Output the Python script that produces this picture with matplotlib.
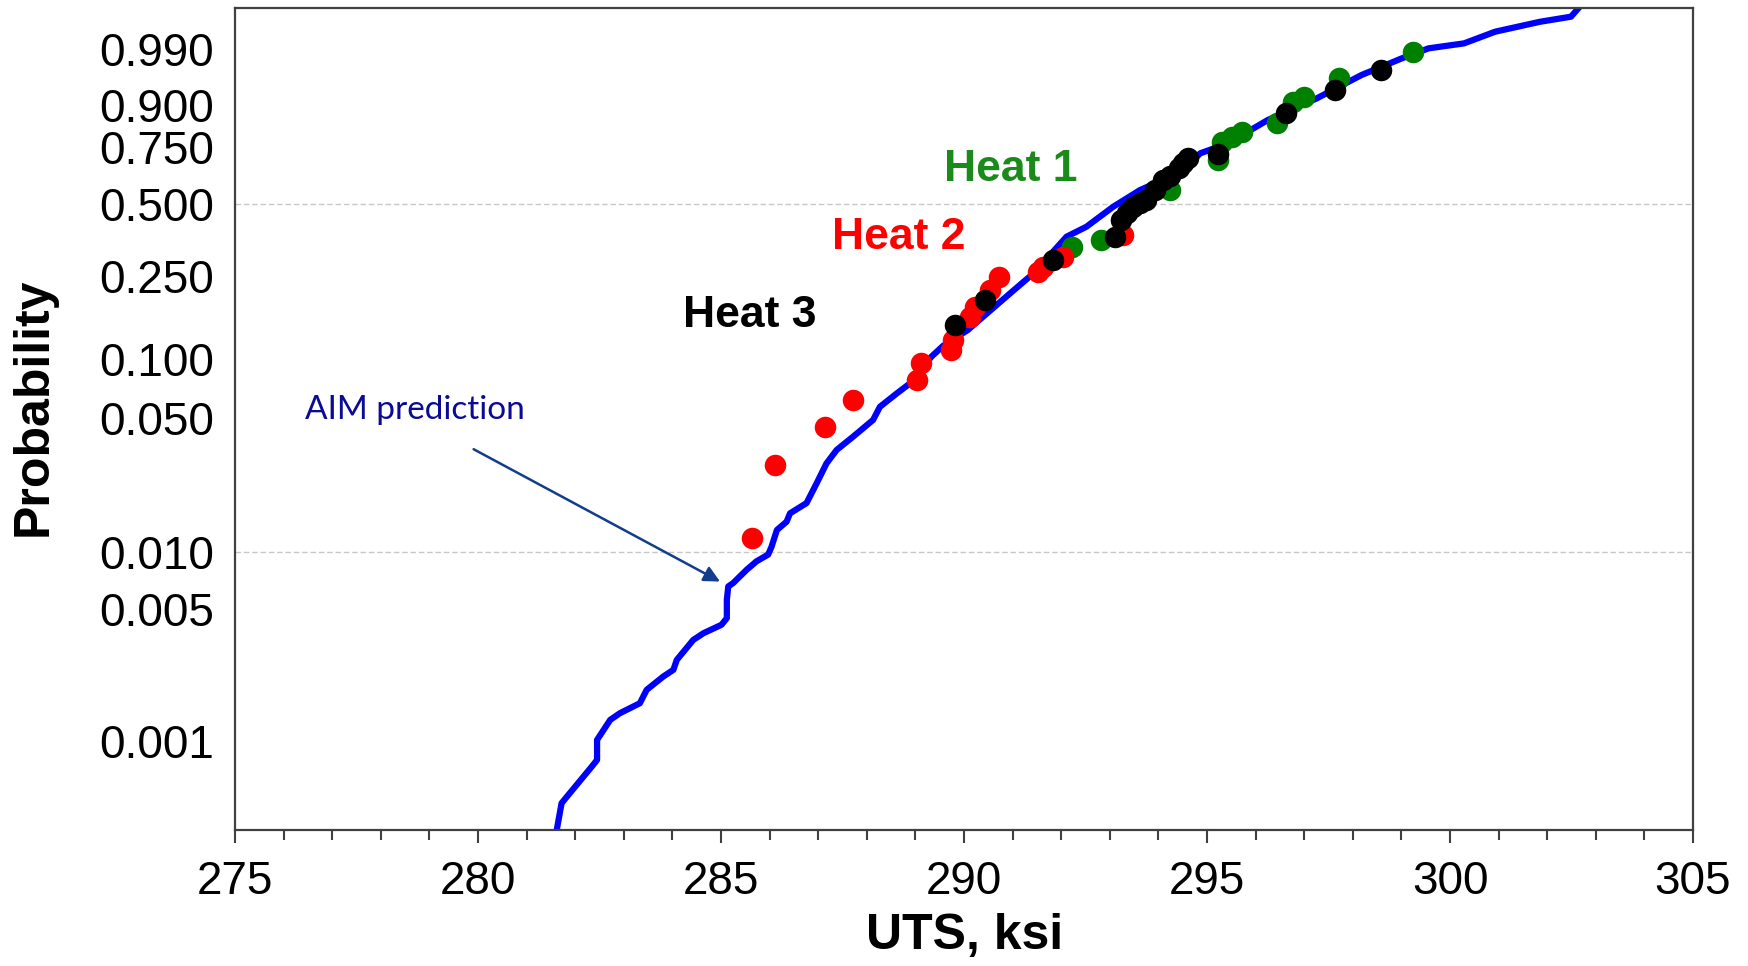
import numpy as np
import matplotlib
matplotlib.use("Agg")
import matplotlib.pyplot as plt
from matplotlib.ticker import MultipleLocator, NullLocator, FixedLocator, FixedFormatter

# ---------------- data ----------------
# AIM prediction (simulated CDF), UTS in ksi vs cumulative probability
curve_uts = [281.62, 281.72, 281.83, 282.34, 282.45, 282.45, 282.72, 282.92, 283.33, 283.47,
             283.81, 284.02, 284.09, 284.43, 284.64, 285.01, 285.12, 285.12, 285.15, 285.25,
             285.53, 285.73, 285.97, 286.04, 286.15, 286.35, 286.42, 286.76, 286.97, 287.17,
             287.38, 287.72, 288.13, 288.27, 288.62, 288.89, 289.33, 289.57, 290.08, 290.95,
             291.43, 292.11, 292.52, 293.07, 293.62, 294.50, 294.86, 295.43, 296.25, 297.26,
             298.18, 299.01, 299.56, 300.29, 300.93, 301.85, 302.49, 302.70]
curve_p = [0.000339, 0.000470, 0.000509, 0.000733, 0.000796, 0.001015, 0.001295, 0.001405, 0.001586, 0.001866,
           0.002193, 0.002381, 0.002687, 0.003428, 0.003718, 0.004118, 0.004464, 0.005580, 0.006562, 0.006836,
           0.008040, 0.008895, 0.009653, 0.01062, 0.0130, 0.01438, 0.0159, 0.0180, 0.0229, 0.0290,
           0.0341, 0.0400, 0.0488, 0.0570, 0.0668, 0.0751, 0.1024, 0.1160, 0.1389, 0.2084,
           0.2577, 0.3722, 0.4090, 0.4886, 0.5600, 0.6450, 0.7234, 0.7657, 0.8545, 0.9188,
           0.9644, 0.9832, 0.9901, 0.99258, 0.99649, 0.99830, 0.99887, 0.99960]

# Heat 1 (green)
heat1_uts = [292.23, 292.82, 294.24, 295.23, 295.30, 295.52, 295.71, 296.44, 296.76, 296.99, 297.72, 299.24]
heat1_p = [0.3377, 0.3606, 0.5604, 0.6940, 0.7723, 0.7925, 0.8121, 0.8431, 0.9101, 0.9227, 0.9593, 0.9881]

# Heat 2 (red)
heat2_uts = [285.63, 286.11, 287.14, 287.71, 289.03, 289.11, 289.73, 289.78, 290.12, 290.23,
             290.53, 290.71, 291.53, 291.63, 292.04, 293.28]
heat2_p = [0.0118, 0.0285, 0.0447, 0.0618, 0.0781, 0.0949, 0.1106, 0.1240, 0.1611, 0.1800,
           0.2159, 0.2488, 0.2622, 0.2762, 0.3057, 0.3784]

# Heat 3 (black)
heat3_uts = [289.81, 290.43, 291.84, 293.11, 293.23, 293.35, 293.47, 293.62, 293.74, 293.92,
             294.10, 294.24, 294.42, 294.50, 294.61, 295.23, 296.63, 297.63, 298.59]
heat3_p = [0.1468, 0.1937, 0.2957, 0.3722, 0.4347, 0.4625, 0.4886, 0.5042, 0.5170, 0.5604,
           0.6048, 0.6228, 0.6572, 0.6809, 0.7015, 0.7203, 0.8765, 0.9378, 0.9711]

y_ticks = [0.001, 0.005, 0.010, 0.050, 0.100, 0.250, 0.500, 0.750, 0.900, 0.990]
grid_p = [0.010, 0.500]
x_ticks = [275, 280, 285, 290, 295, 300, 305]

# ---------------- weibull probability scale ----------------
def fwd(p):
    p = np.clip(np.asarray(p, dtype=float), 1e-12, 1 - 1e-12)
    return np.log(-np.log1p(-p))

def inv(w):
    return -np.expm1(-np.exp(np.asarray(w, dtype=float)))

plt.rcParams['font.family'] = ['Liberation Sans', 'DejaVu Sans']

W, H = 1748, 966
fig = plt.figure(figsize=(W / 100, H / 100), dpi=100)
ax = fig.add_axes([235 / W, 1 - 830 / H, (1693 - 235) / W, (830 - 8) / H])

ax.set_yscale('function', functions=(fwd, inv))
ax.set_xlim(275, 305)
ax.set_ylim(0.000339, 0.99947)

for g in grid_p:
    ax.axhline(g, color='#c8c8c8', lw=1.0, ls=(0, (4, 2)), zorder=1)

ax.plot(curve_uts, curve_p, color='#0000ff', lw=4.5, solid_joinstyle='round', zorder=2, clip_on=True)

ms = 15.5
ax.plot(heat1_uts, heat1_p, 'o', color='#008000', ms=ms, mec='none', zorder=3)
ax.plot(heat2_uts, heat2_p, 'o', color='#ff0000', ms=ms, mec='none', zorder=4)
ax.plot(heat3_uts, heat3_p, 'o', color='#000000', ms=ms, mec='none', zorder=5)

# labels
ax.text(290.97, 0.654, 'Heat 1', color='#1a8a1a', fontsize=32, fontweight='bold', ha='center', va='center')
ax.text(288.66, 0.371, 'Heat 2', color='#ff0000', fontsize=32, fontweight='bold', ha='center', va='center')
ax.text(285.60, 0.1635, 'Heat 3', color='#000000', fontsize=32, fontweight='bold', ha='center', va='center')

ax.text(278.70, 0.0550, 'AIM prediction', color='#0a0a96', fontsize=24, family=['Lato', 'DejaVu Sans'],
        ha='center', va='center')
ax.annotate('', xy=(284.98, 0.00696), xytext=(279.91, 0.0344),
            arrowprops=dict(arrowstyle='-|>', color='#123c8c', lw=1.8, mutation_scale=24,
                            shrinkA=0, shrinkB=0))

# axes styling
for s in ax.spines.values():
    s.set_color('#404040')
    s.set_linewidth(1.6)

ax.xaxis.set_major_locator(FixedLocator(x_ticks))
ax.xaxis.set_minor_locator(MultipleLocator(1))
ax.tick_params(axis='x', which='major', length=9.5, width=1.5, color='#404040', labelsize=33, pad=12)
ax.tick_params(axis='x', which='minor', length=7, width=1.5, color='#404040')

ax.yaxis.set_major_locator(FixedLocator(y_ticks))
ax.yaxis.set_major_formatter(FixedFormatter([f'{t:.3f}' for t in y_ticks]))
ax.yaxis.set_minor_locator(NullLocator())
ax.tick_params(axis='y', which='both', length=0, labelsize=33, pad=15)

fig.text(34 / W, 1 - 407 / H, 'Probability', rotation=90, ha='center', va='center',
         fontsize=36, fontweight='bold')
fig.text(965 / W, 1 - 936 / H, 'UTS, ksi', ha='center', va='center', fontsize=36, fontweight='bold')

fig.savefig('out.png', dpi=100)
